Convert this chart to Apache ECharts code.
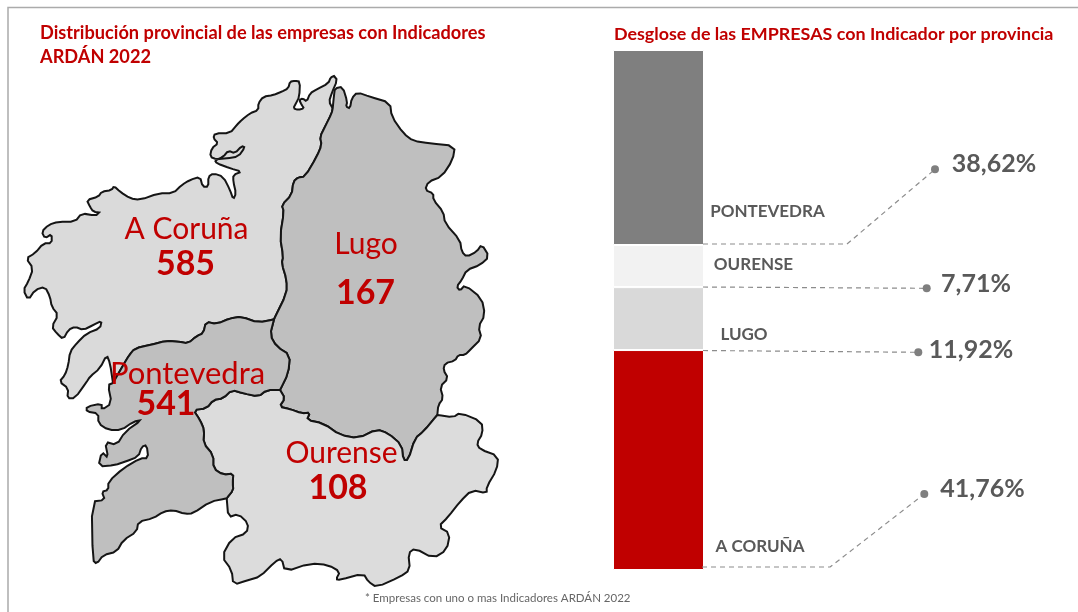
<!DOCTYPE html>
<html><head><meta charset="utf-8">
<style>html,body{margin:0;padding:0;background:#fff}#c{width:1078px;height:612px}</style>
<script src="https://cdn.jsdelivr.net/npm/echarts@6/dist/echarts.min.js"></script>
</head><body><div id="c"></div>
<script>
// ---- data ----
const provinces = ['A Coruña', 'Lugo', 'Ourense', 'Pontevedra'];
const companyCounts = [585, 167, 108, 541];
const shareLabels = ['41,76%', '11,92%', '7,71%', '38,62%'];
// segment sizes of the stacked column, as measured on the drawn column (% of its height)
const columnSegments = [42.3, 12.1, 8.1, 37.5];
const columnNames = ['A CORUÑA', 'LUGO', 'OURENSE', 'PONTEVEDRA'];
const columnColors = ['#C00000', '#D9D9D9', '#F2F2F2', '#7F7F7F'];
const mapColors = ['#DADADA', '#BFBFBF', '#DCDCDC', '#BFBFBF'];

// ---- map outlines (shared borders reused) ----
const corunaCoast = [[334,76],[330.7,77.3],[328.3,83.3],[316.7,89.3],[310,93.3],[306.7,101.7],[302.7,98.3],[299.3,100],[301.7,105],[304,108.3],[298.3,110],[293.3,108.3],[296,103.3],[299.3,96.7],[300,81.7],[295,80.7],[290,81.7],[288.3,88.3],[281.7,91.7],[273.3,95],[263.3,96.7],[258.3,103.3],[258.3,110],[250,113.3],[241.7,120],[236.7,125],[230,133.3],[215,133.3],[213.3,138.3],[218.3,143.3],[211.7,148.3],[210,156.7],[216.7,159.3],[226.7,158.3],[238.3,156.7],[245,147.3],[241.7,146],[235,153.3],[228.3,150.7],[223.3,156.7],[215,160.5],[216.7,163.3],[230,168.3],[241.7,171.7],[233.3,175],[233.3,181.7],[236,193.3],[233.3,199.3],[230,190],[223.3,176.7],[213.3,173.3],[208.3,176.7],[208.3,186.7],[202.7,186.7],[200,176.7],[190,180],[181.7,185],[173.3,193.3],[158.3,193.3],[140,200],[130,198.3],[120,191.7],[114,186],[111.7,190],[101.7,191.7],[98.3,196.7],[86.7,200],[90,206.7],[93.3,211.7],[101,212.7],[95,215.7],[81.7,213.3],[75,221.7],[58.3,221.7],[48.3,225],[41.7,231.7],[45,238.3],[51.7,234],[51.7,243.3],[43.3,243.3],[35,253.3],[26,258.3],[33.3,268.3],[28.3,281.7],[23.3,290],[28.3,300],[35,290],[45,286.7],[50,296.7],[51.7,306.7],[58.3,315],[51.7,326.7],[56.7,333.3],[63.3,339.3],[68.3,330],[75,326.7],[83.3,330],[93.3,325],[101.7,320.7],[100,328.3],[86.7,333.3],[76.7,343.3],[70,351.7],[68.3,365],[65,375],[59.3,381.7],[68.3,388.3],[67.3,398.3],[75,398.3],[86.7,381.7],[90,376.7],[100,368.3],[106.7,355],[110,363],[113,383]];
const corunaPontBorder = [[113,383],[123.3,365],[129.3,355],[135,348.3],[150,345],[166.7,340.7],[178.3,341.7],[188.3,343.3],[196.7,336],[203.3,333.3],[206,321.7],[216.7,324],[230,318.3],[241.7,316.7],[258.3,322.7],[274,319.3]];
const corunaLugoBorder = [[274,319.3],[286.7,293.3],[286.7,280],[281.7,263.3],[283.3,256.7],[280,236.7],[284,211.7],[281.7,205],[291.7,195],[293.3,181.7],[298.3,177.3],[305,176.7],[316.7,156.7],[321.7,145],[320,136.7],[325,126.7],[331.7,113.3],[332.7,108.3]];
const corunaNorthTip = [[332.7,108.3],[329,101.7],[331.7,93.3],[337.3,80],[334,76]];
const lugoCoast = [[332.7,108.3],[334,95],[335,88.3],[342.7,86.7],[347.3,101.7],[346,106.7],[350,108.3],[351.7,98.3],[357.3,92.3],[370,96.7],[390,102.7],[391.7,116.7],[403.3,133.3],[413.3,141],[430,143.3],[455,146],[452.7,160],[441.7,176.7],[428.3,181.7],[425,190],[433.3,193.3],[433.3,200],[443.3,211.7],[445,223.3],[460,240],[461.7,251.7],[466.7,256.7],[476.7,251.7],[481.7,244.3],[489.3,256.7],[480,265],[466.7,270],[461.7,280],[456.7,286.7],[460,290.7],[465,285],[481.7,298.3],[485,315],[478.3,326.7],[481.7,338.3],[470,350],[465,355],[458.3,355],[455,360.7],[445,363.3],[443.3,370],[448.3,378.3],[440,386.7],[443.3,398.3],[438.3,405],[437.3,415]];
const lugoOurenseBorder = [[437.3,415],[423.3,431.7],[415,438.3],[408.3,460],[403.3,460],[401.7,445],[388.3,433.3],[376.7,429.3],[358.3,438.3],[340,435],[323.3,423.3],[306.7,420],[310,412.7],[301.7,413.3],[290,409],[279.3,406.7],[285,398.3],[280,390]];
const lugoPontBorder = [[280,390],[288.3,373.3],[290,355],[276.7,346.7],[270,335],[274,319.3]];
const pontOurenseBorder = [[280,390],[266.7,390],[258.3,396.7],[243.3,393.3],[231.7,390],[223.3,398.3],[213.3,400],[206.7,408.3],[193.3,410],[200,420],[204.3,430],[203.3,443.3],[213.3,455],[213.3,468.3],[223.3,475],[233.3,473.3],[232.7,483.3],[233.3,490],[226.7,498.3]];
const pontCoast = [[226.7,498.3],[210,501.7],[193.3,513.3],[185,514],[173.3,510],[163.3,511.7],[153.3,518.3],[138.3,521.7],[136.7,531.7],[123.3,540],[116.7,551.7],[103.3,555],[96.7,564],[92.7,560],[91.7,501.7],[105,500],[101.7,491.7],[108.3,490],[108.3,481.7],[123.3,468.3],[140,458.3],[148.3,458.3],[146.7,445],[141.7,446.7],[138.3,456.7],[125,461.7],[115,465],[98.3,466.7],[101.7,451.7],[108.3,458.3],[105,441.7],[116.7,445],[125,431.7],[141.7,420],[133.3,421.7],[121.7,430],[108.3,430],[98.3,423.3],[98.3,413.3],[86.7,411.7],[86.7,406.7],[101.7,403.3],[101.7,410],[111.7,403.3],[108,385],[113,383]];
const ourenseCoast = [[437.3,415],[453.3,417.3],[460,412.7],[481.7,421.7],[482.7,433.3],[476.7,443.3],[480,449.3],[498.3,456],[496.7,470],[486.7,486.7],[486.7,493.3],[471.7,490],[460,501.7],[448.3,516.7],[438.3,526.7],[450,533.3],[446.7,550],[433.3,558.3],[415,548.3],[408.3,553.3],[410,570],[400,576.7],[376.7,587.3],[368.3,581.7],[363.3,573.3],[340,580],[336,579.3],[340,571.7],[328.3,565],[310,563.3],[285,571.7],[281.7,558.3],[275,561.7],[260,576.7],[248.3,580],[233.3,585],[231.7,570],[221.7,556.7],[231.7,538.3],[246.7,533.3],[248.3,523.3],[238.3,514],[228.3,517.3],[226.7,498.3]];

// ---- annotation layout (page pixels) ----
const leaderPaths = [
  [[702,567],[830,567],[924.3,494]],
  [[703,350.5],[918.3,352.3]],
  [[703,287],[926.7,288.3]],
  [[703,244],[847,244],[935,169.3]]
];
const shareLabelSpots = [[982.5,489],[971,350],[976,284],[994,164]];
const nameLabelSpots = [[760,547],[744,335],[753.5,265],[767.5,212]];
const mapNameSpots = [[186.5,229],[366,244],[341.5,453],[187.5,374]];
const mapCountSpots = [[185.5,264],[365.5,293],[338,488],[166,404]];
const mapNameSizes = [30, 30, 30, 31];

// round the traced corners, keeping each border's end points so neighbours still meet
const soften = (pts) => {
  const next = [pts[0]];
  for (let i = 0; i < pts.length - 1; i++) {
    const [a, b] = [pts[i], pts[i + 1]];
    next.push([a[0] * .75 + b[0] * .25, a[1] * .75 + b[1] * .25],
              [a[0] * .25 + b[0] * .75, a[1] * .25 + b[1] * .75]);
  }
  next.push(pts[pts.length - 1]);
  return next;
};
const rev = a => a.slice().reverse();
const cC = soften(corunaCoast), cP = soften(corunaPontBorder), cL = soften(corunaLugoBorder), cT = soften(corunaNorthTip);
const lC = soften(lugoCoast), lO = soften(lugoOurenseBorder), lP = soften(lugoPontBorder);
const pO = soften(pontOurenseBorder), pC = soften(pontCoast), oC = soften(ourenseCoast);
const rings = [
  [...cC, ...cP, ...cL, ...cT],
  [...lC, ...lO, ...lP, ...cL],
  [...oC, ...rev(pO), ...rev(lO)],
  [...rev(lP), ...pO, ...pC, ...cP]
];
const geoJson = {
  type: 'FeatureCollection',
  features: provinces.map((name, i) => ({
    type: 'Feature', properties: { name },
    geometry: { type: 'Polygon', coordinates: [rings[i].concat([rings[i][0]])] }
  }))
};
echarts.registerMap('galicia', geoJson);

const RED = '#C00000', GREY = '#595959', FONT = 'Lato';
const textSeries = (spots, texts, size, weight, color) => ({
  type: 'scatter', xAxisIndex: 1, yAxisIndex: 1, symbolSize: 0, silent: true, z: 20,
  itemStyle: { opacity: 1 },
  data: spots.map((p, i) => ({ value: p, txt: texts[i],
    label: { fontSize: Array.isArray(size) ? size[i] : size } })),
  label: { show: true, position: 'inside', align: 'center', verticalAlign: 'middle', opacity: 1,
    formatter: o => o.data.txt, fontFamily: FONT, fontWeight: weight, color,
    textBorderWidth: 0, textBorderColor: 'transparent', textShadowBlur: 0 }
});

const chart = echarts.init(document.getElementById('c'), null, { renderer: 'canvas' });
chart.setOption({
  animation: false,
  backgroundColor: '#fff',
  title: [
    { text: 'Distribución provincial de las empresas con Indicadores\nARDÁN 2022', left: 35, top: 16,
      textStyle: { fontFamily: FONT, fontSize: 18.2, fontWeight: 'bold', color: '#C00000', lineHeight: 24 } },
    { text: 'Desglose de las EMPRESAS con Indicador por provincia', left: 609, top: 17,
      textStyle: { fontFamily: FONT, fontSize: 17.9, fontWeight: 'bold', color: '#C00000', lineHeight: 24 } },
    { text: '* Empresas con uno o mas Indicadores ARDÁN 2022', left: 360, top: 586,
      textStyle: { fontFamily: FONT, fontSize: 11.5, fontWeight: 'normal', color: '#666666', lineHeight: 14 } }
  ],
  graphic: [{ type: 'polyline', silent: true, shape: { points: [[8,612],[8,7.5],[1078,7.5]] },
    style: { stroke: '#ABABAB', lineWidth: 1.5, fill: null } }],
  geo: {
    map: 'galicia', roam: false, silent: true, left: 0, top: 0, width: 1078, height: 612, aspectScale: 1,
    boundingCoords: [[0,0],[1078,612]],
    projection: { project: p => p, unproject: p => p },
    itemStyle: { areaColor: '#DADADA', borderColor: '#151515', borderWidth: 2 },
    regions: provinces.map((name, i) => ({ name, itemStyle: { areaColor: mapColors[i] } })),
    label: { show: false }, emphasis: { disabled: true }
  },
  grid: [
    { left: 613, top: 50, width: 91, height: 520, containLabel: false },
    { left: 0, top: 0, width: 1078, height: 612 }
  ],
  xAxis: [
    { type: 'category', data: ['Empresas'], show: false, gridIndex: 0 },
    { type: 'value', min: 0, max: 1078, show: false, gridIndex: 1 }
  ],
  yAxis: [
    { type: 'value', min: 0, max: 100, show: false, gridIndex: 0 },
    { type: 'value', min: 0, max: 612, inverse: true, show: false, gridIndex: 1 }
  ],
  series: [
    ...columnSegments.map((v, i) => ({
      type: 'bar', name: columnNames[i], stack: 'total', barWidth: '100%', silent: true,
      data: [v], itemStyle: { color: columnColors[i], borderColor: '#fff', borderWidth: 1 }
    })),
    ...leaderPaths.map(path => ({
      type: 'line', xAxisIndex: 1, yAxisIndex: 1, silent: true, z: 5, data: path,
      showSymbol: true, symbol: (v, p) => p.dataIndex === path.length - 1 ? 'circle' : 'none', symbolSize: 8,
      itemStyle: { color: '#7F7F7F' },
      lineStyle: { color: '#8C8C8C', width: 1.2, type: [5, 4] }
    })),
    textSeries(mapNameSpots, provinces, mapNameSizes, 'normal', RED),
    textSeries(mapCountSpots, companyCounts.map(String), 34, 'bold', RED),
    textSeries(shareLabelSpots, shareLabels, 25, 'bold', GREY),
    textSeries(nameLabelSpots, columnNames, 17, 'bold', GREY)
  ]
});
</script></body></html>
